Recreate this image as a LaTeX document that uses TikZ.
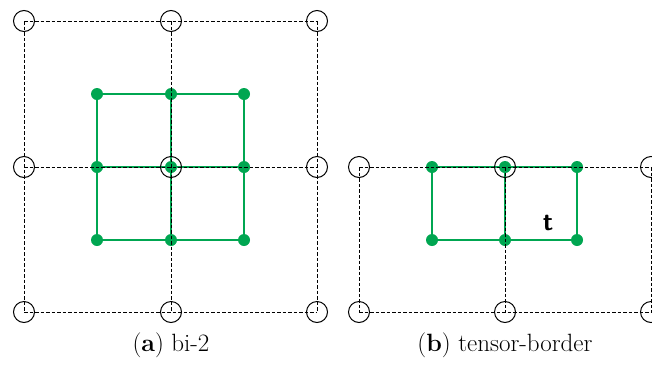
\documentclass[tikz,border=0pt]{standalone}
\definecolor{meshgreen}{RGB}{0,166,81}
\begin{document}
\begin{tikzpicture}[x=1pt,y=-1pt,
  knot/.style={circle,draw=black,line width=1pt,minimum size=21pt,inner sep=0pt},
  cp/.style={circle,fill=meshgreen,minimum size=12pt,inner sep=0pt},
  cpline/.style={meshgreen,line width=2.6pt},
  gridline/.style={black,line width=0.9pt,dash pattern=on 3.5pt off 2pt},
  tag/.style={font=\fontsize{25}{30}\selectfont},
  lbl/.style={font=\sffamily\bfseries\fontsize{26}{30}\selectfont}]
\useasboundingbox (0,0) rectangle (652,370);

% ---- (a) bi-2: control points
\foreach \i/\x in {0/97,1/171,2/244}
  \foreach \j/\y in {0/94,1/167,2/240}
    \coordinate (p\i\j) at (\x,\y);
\foreach \i in {0,1,2} {
  \draw[cpline] (p\i0) -- (p\i2);
  \draw[cpline] (p0\i) -- (p2\i);
}
\foreach \i in {0,1,2}
  \foreach \j in {0,1,2}
    \node[cp] (c\i\j) at (p\i\j) {};

% ---- (a) knot grid
\foreach \i/\x in {0/24,1/171,2/317}
  \foreach \j/\y in {0/21,1/167,2/312}
    \coordinate (k\i\j) at (\x,\y);
\foreach \i in {0,1,2} {
  \draw[gridline] (k\i0) -- (k\i2);
  \draw[gridline] (k0\i) -- (k2\i);
}
\foreach \i in {0,1,2}
  \foreach \j in {0,1,2}
    \node[knot] (n\i\j) at (k\i\j) {};

% ---- (b) tensor-border: control points
\foreach \i/\x in {0/432,1/505,2/577}
  \foreach \j/\y in {0/167,1/240}
    \coordinate (q\i\j) at (\x,\y);
\draw[cpline] (q00) -- (q20) -- (q21) -- (q01) -- cycle;
\draw[cpline] (q10) -- (q11);
\foreach \i in {0,1,2}
  \foreach \j in {0,1}
    \node[cp] (d\i\j) at (q\i\j) {};

% ---- (b) knot grid
\foreach \i/\x in {0/359,1/505,2/651}
  \foreach \j/\y in {0/167,1/312}
    \coordinate (m\i\j) at (\x,\y);
\foreach \i in {0,1,2}
  \draw[gridline] (m\i0) -- (m\i1);
\foreach \j in {0,1}
  \draw[gridline] (m0\j) -- (m2\j);
\foreach \i in {0,1,2}
  \foreach \j in {0,1}
    \node[knot] (e\i\j) at (m\i\j) {};

\node[lbl] (t) at (548,223) {t};

% ---- captions
\node[tag] (capa) at (171,345) {(\textbf{a}) bi-2};
\node[tag] (capb) at (505,345) {(\textbf{b}) tensor-border};
\end{tikzpicture}
\end{document}
